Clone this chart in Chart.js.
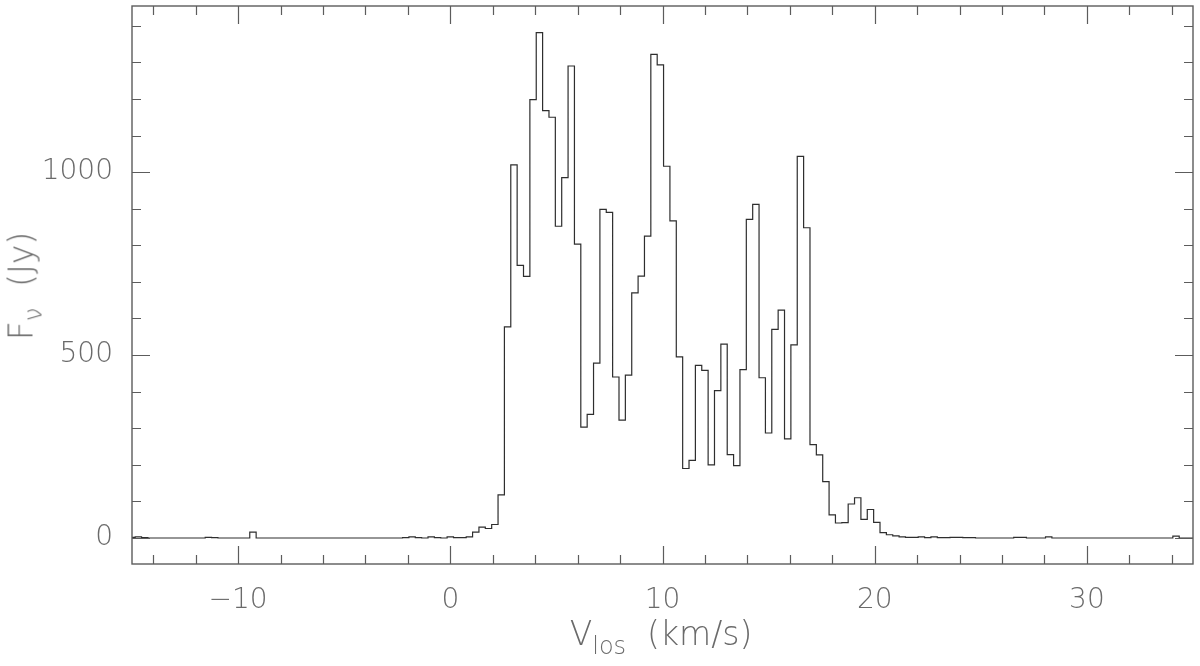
<!DOCTYPE html>
<html><head><meta charset="utf-8">
<script src="https://cdn.jsdelivr.net/npm/chart.js@4.4.1/dist/chart.umd.min.js"></script>
<style>
html,body{margin:0;padding:0;background:#fff;}
#wrap{position:relative;width:1200px;height:666px;overflow:hidden;}
canvas{position:absolute;left:0;top:0;}
.anchor{position:absolute;width:0;height:0;}
.t{position:absolute;left:0;top:0;font-family:"DejaVu Sans";font-weight:200;color:#6a6a6a;font-size:33px;white-space:nowrap;line-height:1;transform-origin:50% 50%;}
.t sub{font-size:24px;vertical-align:baseline;position:relative;top:9px;}
#xa{left:661px;top:633px;}
#xa .t{transform:translate(-50%,-50%);}
#ya{left:21px;top:286px;}
#ya .t{transform:translate(-50%,-50%) rotate(-90deg);}
</style></head>
<body><div id="wrap"><canvas id="c" width="1200" height="666"></canvas>
<div class="anchor" id="xa"><div class="t">V<sub>los</sub>&nbsp; (km/s)</div></div>
<div class="anchor" id="ya"><div class="t">F<sub>ν</sub>&nbsp; (Jy)</div></div>
</div>
<script>
// ---- data (channel centres every 0.3 km/s, starting at -15.3 km/s) ----
const channelStart = -15.3;
const channelWidth = 0.3;
const flux = [
  0, 2, 3, 1, 0, 0, 0, 0, 0, 0,            // -15.3 .. -12.6
  0, 0, 0, 2, 1, 0, 0, 0, 0, 0,            // -12.3 .. -9.6
  16, 0, 0, 0, 0, 0, 0, 0, 0, 0,           // -9.3 .. -6.6
  0, 0, 0, 0, 0, 0, 0, 0, 0, 0,            // -6.3 .. -3.6
  0, 0, 0, 0, 1, 3, 1, 0, 3, 1,            // -3.3 .. -0.6
  0, 3, 1, 1, 3, 16, 30, 26, 37, 118,      // -0.3 .. 2.4
  577, 1020, 745, 715, 1198, 1381, 1168, 1150, 852, 985,   // 2.7 .. 5.4
  1290, 803, 303, 338, 478, 898, 890, 440, 322, 445,       // 5.7 .. 8.4
  670, 716, 825, 1322, 1293, 1016, 867, 495, 190, 212,     // 8.7 .. 11.4
  472, 458, 200, 403, 530, 228, 198, 460, 871, 912,        // 11.7 .. 14.4
  438, 287, 570, 623, 271, 528, 1043, 848, 255, 227,       // 14.7 .. 17.4
  154, 63, 41, 42, 93, 110, 51, 78, 43, 15,                // 17.7 .. 20.4
  9, 6, 3, 2, 2, 3, 1, 3, 1, 1,            // 20.7 .. 23.4
  2, 2, 1, 1, 0, 0, 0, 0, 0, 0,            // 23.7 .. 26.4
  2, 2, 0, 0, 0, 3, 0, 0, 0, 0,            // 26.7 .. 29.4
  0, 0, 0, 0, 0, 0, 0, 0, 0, 0,            // 29.7 .. 32.4
  0, 0, 0, 0, 0, 5, 0, 0, 0                // 32.7 .. 35.1
];
const xTickLabels = [-10, 0, 10, 20, 30];
const yTickLabels = [0, 500, 1000];
const xRange = [-15, 35];
const yRange = [-71, 1454];
const xMinorStep = 2, xMajorStep = 10;
const yMinorStep = 100, yMajorStep = 500;

const points = flux.map((f, i) => ({ x: +(channelStart + i * channelWidth).toFixed(2), y: f }));

const AXIS_COLOR = '#5c5c5c';
const TEXT_COLOR = '#6a6a6a';
const tickFont = { family: 'DejaVu Sans', size: 28, weight: 200 };

const framePlugin = {
  id: 'frame',
  afterDatasetsDraw(chart) {
    const { ctx, chartArea: a, scales: { x, y } } = chart;
    ctx.save();
    ctx.strokeStyle = AXIS_COLOR;
    ctx.lineWidth = 1.4;
    ctx.strokeRect(a.left, a.top, a.right - a.left, a.bottom - a.top);
    ctx.lineWidth = 1.2;
    ctx.beginPath();
    for (let v = Math.ceil(xRange[0] / xMinorStep) * xMinorStep; v <= xRange[1]; v += xMinorStep) {
      const px = Math.round(x.getPixelForValue(v)) + 0.5;
      if (px <= a.left + 1 || px >= a.right - 1) continue;
      const len = (v % xMajorStep === 0) ? 18 : 9;
      ctx.moveTo(px, a.bottom); ctx.lineTo(px, a.bottom - len);
      ctx.moveTo(px, a.top); ctx.lineTo(px, a.top + len);
    }
    for (let v = Math.ceil(yRange[0] / yMinorStep) * yMinorStep; v <= yRange[1]; v += yMinorStep) {
      const py = Math.round(y.getPixelForValue(v)) + 0.5;
      if (py <= a.top + 1 || py >= a.bottom - 1) continue;
      const len = (v % yMajorStep === 0) ? 18 : 9;
      ctx.moveTo(a.left, py); ctx.lineTo(a.left + len, py);
      ctx.moveTo(a.right, py); ctx.lineTo(a.right - len, py);
    }
    ctx.stroke();
    ctx.restore();
  }
};

new Chart(document.getElementById('c'), {
  type: 'line',
  data: {
    datasets: [{
      data: points,
      stepped: 'middle',
      borderColor: '#2e2e2e',
      borderWidth: 1.2,
      pointRadius: 0,
      fill: false,
      tension: 0
    }]
  },
  options: {
    responsive: false,
    devicePixelRatio: 1,
    animation: false,
    layout: { padding: { left: 0, right: 7, top: 6, bottom: 0 } },
    plugins: { legend: { display: false }, tooltip: { enabled: false }, title: { display: false } },
    scales: {
      x: {
        type: 'linear',
        min: xRange[0], max: xRange[1],
        afterBuildTicks: s => { s.ticks = xTickLabels.map(v => ({ value: v })); },
        afterFit: s => { s.height = 102; s.paddingLeft = 0; s.paddingRight = 0; s.paddingTop = 0; s.paddingBottom = 0; },
        grid: { display: false, drawTicks: false },
        border: { display: false },
        ticks: {
          autoSkip: false, maxRotation: 0, padding: 20,
          color: TEXT_COLOR, font: tickFont,
          callback: v => (v < 0 ? '\u2212' + Math.abs(v) : String(v))
        }
      },
      y: {
        type: 'linear',
        min: yRange[0], max: yRange[1],
        afterBuildTicks: s => { s.ticks = yTickLabels.map(v => ({ value: v })); },
        afterFit: s => { s.width = 132; s.paddingLeft = 0; s.paddingRight = 0; s.paddingTop = 0; s.paddingBottom = 0; },
        grid: { display: false, drawTicks: false },
        border: { display: false },
        ticks: {
          autoSkip: false, padding: 19,
          color: TEXT_COLOR, font: tickFont,
          callback: v => String(v)
        }
      }
    }
  },
  plugins: [framePlugin]
});
</script>
</body></html>
